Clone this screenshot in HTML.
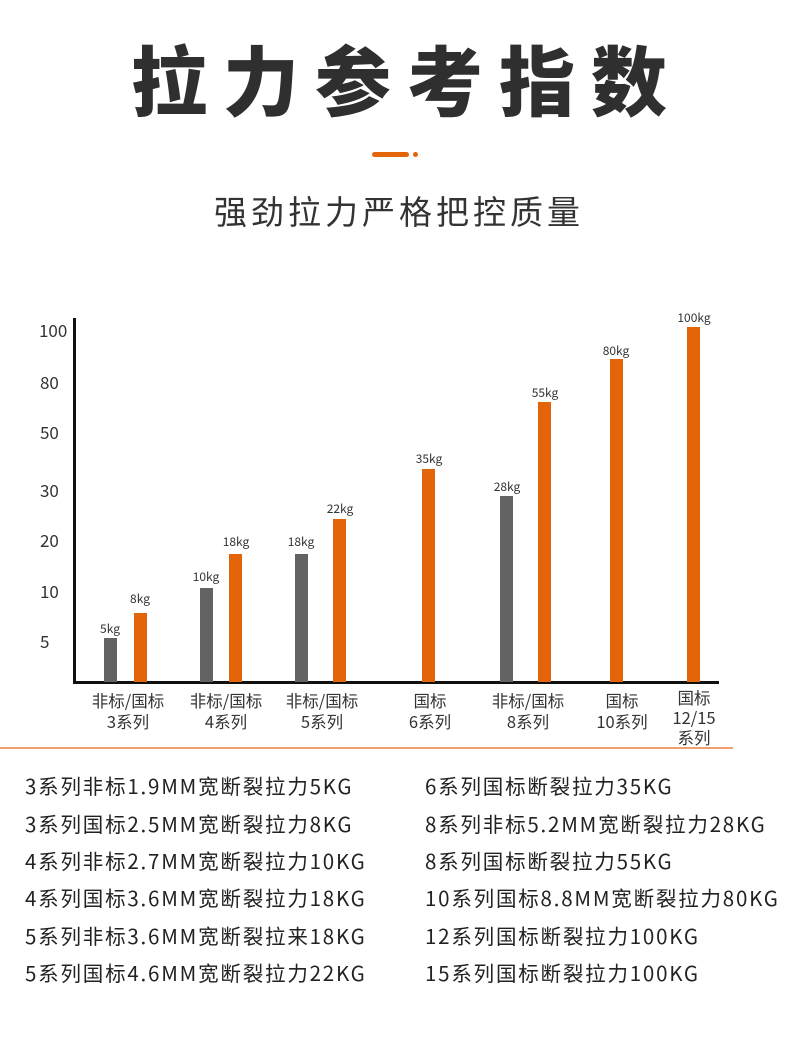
<!DOCTYPE html>
<html><head><meta charset="utf-8"><style>
*{margin:0;padding:0}
body{width:790px;height:1047px;background:#fff;position:relative;overflow:hidden;font-family:"Liberation Sans","Noto Sans CJK SC",sans-serif;color:#333}
.a{position:absolute;white-space:nowrap}
.bar{position:absolute;width:13px;bottom:365px}
.g{background:#636363}.o{background:#e46509}
.v{position:absolute;font-size:12px;color:#333;transform:translateX(-50%);font-family:"Noto Sans CJK SC",sans-serif}
.t{position:absolute;font-size:17px;left:30px;width:40px;text-align:left;font-family:"Noto Sans CJK SC",sans-serif;line-height:20px}
.c{position:absolute;font-size:16.5px;line-height:21px;text-align:center;transform:translateX(-50%);font-family:"Noto Sans CJK SC",sans-serif;top:690px;color:#333}
.l{position:absolute;font-size:20.5px;letter-spacing:1.8px;font-family:"Noto Sans CJK SC",sans-serif;line-height:24px;white-space:nowrap;color:#222}
</style></head><body>
<div class="a" style="left:0;width:790px;top:22px;text-align:center;font-size:76px;font-weight:900;letter-spacing:16px;font-family:'Noto Sans CJK SC',sans-serif;line-height:110px;color:#2f2f2f;padding-left:12px">拉力参考指数</div>
<div class="a" style="left:372px;top:152px;width:37px;height:5px;background:#e46509;border-radius:3px"></div>
<div class="a" style="left:413px;top:152px;width:5px;height:5px;background:#e46509;border-radius:3px"></div>
<div class="a" style="left:0;width:790px;top:187px;text-align:center;font-size:33px;letter-spacing:4px;font-family:'Noto Sans CJK SC',sans-serif;line-height:46px;color:#333;padding-left:4px">强劲拉力严格把控质量</div>

<div class="a" style="left:73px;top:318px;width:3px;height:366px;background:#111"></div>
<div class="a" style="left:73px;top:681px;width:646px;height:3px;background:#111"></div>
<div class="a" style="left:0;top:747px;width:733px;height:2px;background:#f0a070"></div>

<div class="t" style="top:320px;left:39px">100</div>
<div class="t" style="top:372px;left:40px">80</div>
<div class="t" style="top:422px;left:40px">50</div>
<div class="t" style="top:480px;left:40px">30</div>
<div class="t" style="top:530px;left:40px">20</div>
<div class="t" style="top:581px;left:40px">10</div>
<div class="t" style="top:631px;left:40px">5</div>

<div class="bar g" style="left:104px;top:638px"></div><div class="v" style="left:110px;top:620px">5kg</div>
<div class="bar o" style="left:134px;top:613px"></div><div class="v" style="left:140px;top:590px">8kg</div>
<div class="bar g" style="left:200px;top:588px"></div><div class="v" style="left:206px;top:568px">10kg</div>
<div class="bar o" style="left:229px;top:554px"></div><div class="v" style="left:236px;top:533px">18kg</div>
<div class="bar g" style="left:295px;top:554px"></div><div class="v" style="left:301px;top:533px">18kg</div>
<div class="bar o" style="left:333px;top:519px"></div><div class="v" style="left:340px;top:500px">22kg</div>
<div class="bar o" style="left:422px;top:469px"></div><div class="v" style="left:429px;top:450px">35kg</div>
<div class="bar g" style="left:500px;top:496px"></div><div class="v" style="left:507px;top:478px">28kg</div>
<div class="bar o" style="left:538px;top:402px"></div><div class="v" style="left:545px;top:384px">55kg</div>
<div class="bar o" style="left:610px;top:359px"></div><div class="v" style="left:616px;top:342px">80kg</div>
<div class="bar o" style="left:687px;top:327px"></div><div class="v" style="left:694px;top:309px">100kg</div>

<div class="c" style="left:128px">非标/国标<br>3系列</div>
<div class="c" style="left:226px">非标/国标<br>4系列</div>
<div class="c" style="left:322px">非标/国标<br>5系列</div>
<div class="c" style="left:430px">国标<br>6系列</div>
<div class="c" style="left:528px">非标/国标<br>8系列</div>
<div class="c" style="left:622px">国标<br>10系列</div>
<div class="c" style="left:694px;top:687px;line-height:20px">国标<br>12/15<br>系列</div>

<div class="l" style="left:25px;top:773px">3系列非标1.9MM宽断裂拉力5KG</div>
<div class="l" style="left:25px;top:811px">3系列国标2.5MM宽断裂拉力8KG</div>
<div class="l" style="left:25px;top:848px">4系列非标2.7MM宽断裂拉力10KG</div>
<div class="l" style="left:25px;top:885px">4系列国标3.6MM宽断裂拉力18KG</div>
<div class="l" style="left:25px;top:923px">5系列非标3.6MM宽断裂拉来18KG</div>
<div class="l" style="left:25px;top:960px">5系列国标4.6MM宽断裂拉力22KG</div>
<div class="l" style="left:425px;top:773px">6系列国标断裂拉力35KG</div>
<div class="l" style="left:425px;top:811px">8系列非标5.2MM宽断裂拉力28KG</div>
<div class="l" style="left:425px;top:848px">8系列国标断裂拉力55KG</div>
<div class="l" style="left:425px;top:885px">10系列国标8.8MM宽断裂拉力80KG</div>
<div class="l" style="left:425px;top:923px">12系列国标断裂拉力100KG</div>
<div class="l" style="left:425px;top:960px">15系列国标断裂拉力100KG</div>
</body></html>
